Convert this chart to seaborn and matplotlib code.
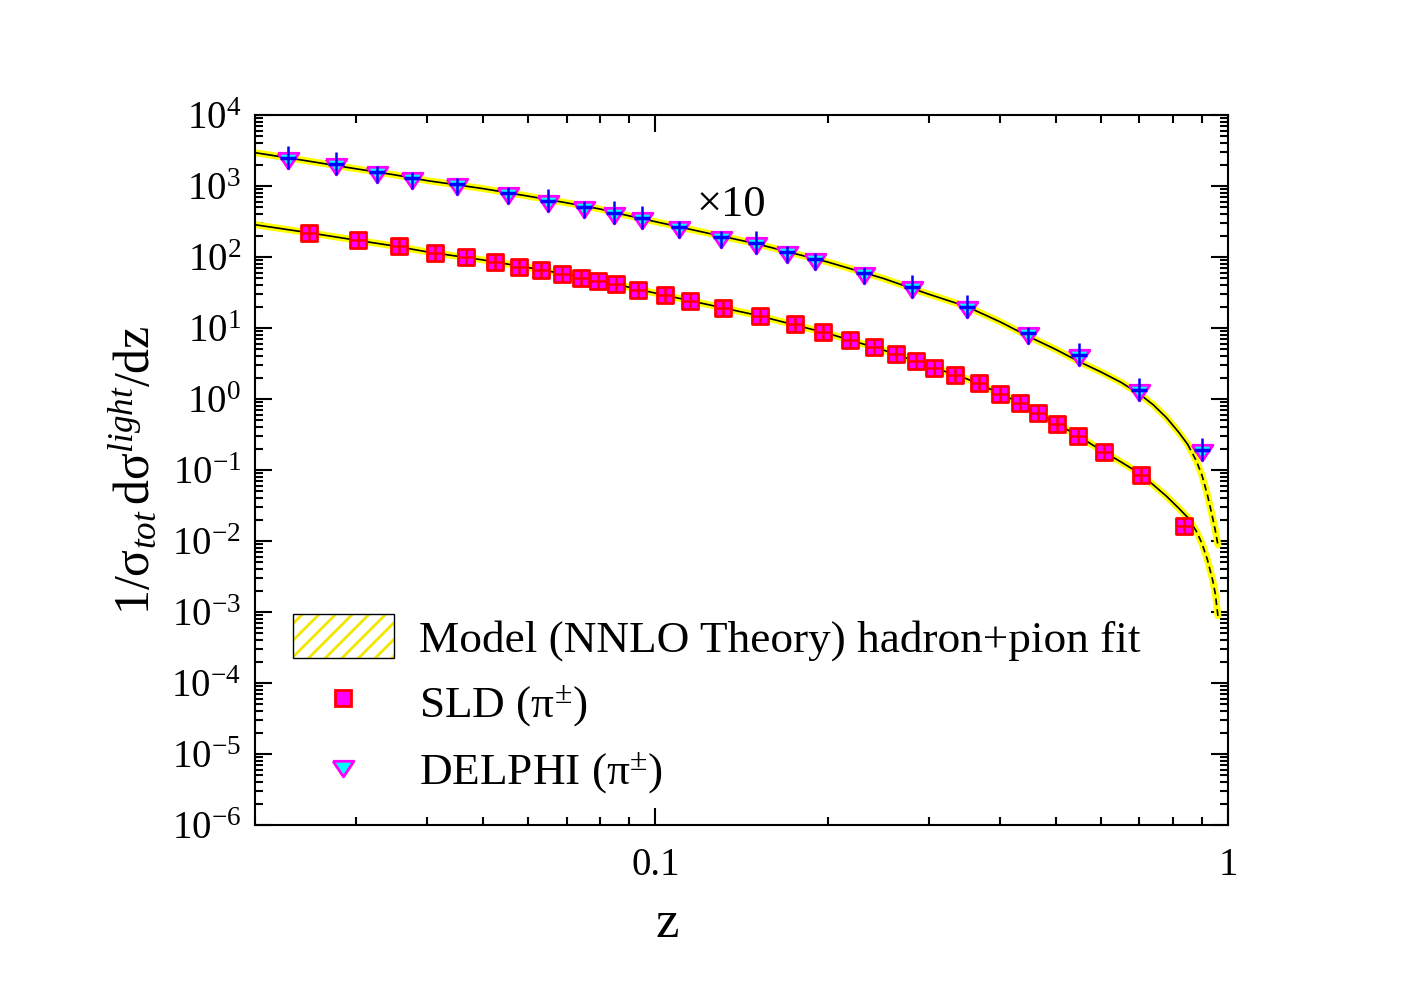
import numpy as np
import pandas as pd
import seaborn as sns
import matplotlib.pyplot as plt
from matplotlib.patches import Patch
from matplotlib.lines import Line2D
from matplotlib.markers import MarkerStyle
from matplotlib.legend_handler import HandlerTuple
from matplotlib.ticker import LogLocator, FixedLocator, FixedFormatter, NullFormatter

# theory curves (NNLO fit), light quark tagged
z_th = [0.02, 0.025, 0.03, 0.035, 0.04, 0.05, 0.06, 0.07, 0.08, 0.09, 0.1, 0.12, 0.15,
        0.2, 0.25, 0.3, 0.35, 0.4, 0.45, 0.5, 0.55, 0.6, 0.65, 0.7, 0.74, 0.78, 0.82,
        0.85, 0.88, 0.9, 0.92, 0.94, 0.95, 0.96]
th_sld = [285, 218, 173, 143, 118, 91, 71, 57, 47, 37.5, 31, 22.5, 15.2,
          8.4, 4.9, 2.93, 1.92, 1.2, 0.75, 0.46, 0.295, 0.19, 0.13, 0.09, 0.062, 0.043, 0.029,
          0.0215, 0.0138, 0.0093, 0.0055, 0.0028, 0.0018, 0.00088]
th_del = [295, 222, 175, 144, 119, 92, 72, 58, 47.5, 38, 31.5, 22.8, 15.4,
          8.5, 5.0, 3.0, 2.0, 1.22, 0.75, 0.5, 0.335, 0.24, 0.172, 0.118, 0.083, 0.055, 0.034,
          0.023, 0.0135, 0.0085, 0.0045, 0.0021, 0.0014, 0.00088]
z_dash = 0.85  # curves drawn dashed beyond this z

# SLD pi+- data
z_sld = [0.0248, 0.0303, 0.0357, 0.0413, 0.0468, 0.0524, 0.0577, 0.0632, 0.0686, 0.0743,
         0.0795, 0.0852, 0.0934, 0.104, 0.115, 0.131, 0.152, 0.175, 0.196, 0.219, 0.241,
         0.263, 0.285, 0.307, 0.334, 0.368, 0.400, 0.434, 0.466, 0.503, 0.547, 0.608,
         0.705, 0.838]
y_sld = [218, 173, 143, 114, 100, 85, 72, 66, 58, 51, 46, 42, 34, 29, 24, 19.1, 14.8, 11.4,
         8.8, 6.8, 5.4, 4.3, 3.43, 2.73, 2.18, 1.68, 1.18, 0.88, 0.635, 0.445, 0.301, 0.179,
         0.085, 0.0163]

# DELPHI pi+- data (plotted x10), asymmetric errors
z_del = [0.0228, 0.0277, 0.0327, 0.0376, 0.0451, 0.0552, 0.0650, 0.0752, 0.0848, 0.0949,
         0.110, 0.130, 0.150, 0.170, 0.190, 0.231, 0.281, 0.350, 0.448, 0.550, 0.699, 0.901]
y_del = [248, 204, 157.5, 129.7, 106.7, 79.7, 61.5, 50.6, 41.7, 35.4, 26.5, 19.1, 15.7,
         11.8, 9.4, 6.0, 3.8, 1.98, 0.85, 0.417, 0.134, 0.0191]
e_del_up = [119, 98, 33, 27, 22, 17, 30, 10.6, 20, 17, 5.6, 4.0, 7.5, 2.5, 2.0, 1.26, 1.82,
            0.95, 0.18, 0.20, 0.064, 0.0092]
e_del_dn = [74, 61, 47, 39, 32, 24, 18.5, 15.2, 12.5, 10.6, 8.0, 5.7, 4.7, 3.5, 2.8, 1.8,
            1.14, 0.59, 0.26, 0.125, 0.040, 0.0057]
scale_del = 10

sns.set_style('ticks')
plt.rcParams['font.family'] = ['Liberation Serif', 'DejaVu Serif']
plt.rcParams['mathtext.fontset'] = 'custom'
plt.rcParams['mathtext.rm'] = 'Liberation Serif'
plt.rcParams['mathtext.it'] = 'Liberation Serif:italic'
plt.rcParams['mathtext.bf'] = 'Liberation Serif:bold'
plt.rcParams['hatch.linewidth'] = 2.0
for k in ['text.color', 'axes.labelcolor', 'xtick.color', 'ytick.color', 'axes.edgecolor']:
    plt.rcParams[k] = 'black'

# downward triangle with its centroid at the data point
tri = MarkerStyle([(-1, 0.5), (1, 0.5), (0, -1), (-1, 0.5)])

fig = plt.figure(figsize=(14.28, 9.9), dpi=100)
ax = fig.add_axes([0.1786, 0.1667, 0.6814, 0.7171])
ax.set_xscale('log')
ax.set_yscale('log')

# theory curves: yellow band + black line, dashed at high z
zt = np.array(z_th)
for vals, s in ((th_sld, 1), (th_del, scale_del)):
    df = pd.DataFrame({'z': zt, 'y': np.array(vals) * s})
    sns.lineplot(data=df, x='z', y='y', color='#ffff00', lw=5, ax=ax,
                 estimator=None, sort=False, zorder=2)
    sns.lineplot(data=df[df.z <= z_dash], x='z', y='y', color='black', lw=1.2, ax=ax,
                 estimator=None, sort=False, zorder=3)
    sns.lineplot(data=df[df.z >= z_dash], x='z', y='y', color='black', lw=1.2, ax=ax,
                 estimator=None, sort=False, zorder=3, linestyle=(0, (4, 2.5)))

# SLD squares
sld = pd.DataFrame({'z': z_sld, 'y': y_sld})
sns.scatterplot(data=sld, x='z', y='y', marker='s', s=121, color='#ff00ff',
                edgecolor='#ff0000', linewidth=2, ax=ax, zorder=4)
ax.plot(z_sld, y_sld, ls='none', marker='+', ms=11, mew=1.8, color='#ff0000', zorder=5)

# DELPHI triangles x10
dl = pd.DataFrame({'z': z_del, 'y': np.array(y_del) * scale_del})
sns.scatterplot(data=dl, x='z', y='y', marker=tri, s=225, color='#00ffff',
                edgecolor='#ff00ff', linewidth=2, ax=ax, zorder=4)
yerr = np.array([e_del_dn, e_del_up]) * scale_del
ax.errorbar(z_del, dl.y, yerr=yerr, fmt='_', ms=12, mew=2.5,
            color='#0000ff', ecolor='#0000ff', elinewidth=1.8, capsize=0, zorder=5)

ax.text(0.489, 0.873, '×10', transform=ax.transAxes, ha='center', va='center', fontsize=32)

ax.set_xlim(0.02, 1)
ax.set_ylim(1e-6, 1e4)

ax.xaxis.set_major_locator(FixedLocator([0.1, 1]))
ax.xaxis.set_major_formatter(FixedFormatter(['0.1', '1']))
ax.xaxis.set_minor_locator(LogLocator(base=10, subs=np.arange(2, 10), numticks=100))
ax.xaxis.set_minor_formatter(NullFormatter())
ax.yaxis.set_major_locator(LogLocator(base=10, numticks=20))
ax.yaxis.set_minor_locator(LogLocator(base=10, subs=np.arange(2, 10), numticks=200))
ax.yaxis.set_minor_formatter(NullFormatter())

ax.tick_params(which='both', direction='in', top=True, right=True, width=1.5, color='black')
ax.tick_params(axis='x', which='major', length=12.5, pad=16, labelsize=28)
ax.tick_params(axis='x', which='minor', length=6)
ax.tick_params(axis='y', which='major', length=12, pad=10, labelsize=28)
ax.tick_params(axis='y', which='minor', length=6)
for sp in ax.spines.values():
    sp.set_linewidth(1.5)
    sp.set_color('black')

ax.set_xlabel('z', fontsize=38)
ax.xaxis.set_label_coords(0.424, -0.106)
ax.set_ylabel(r'$\mathrm{1/\sigma}_{\mathit{tot}}\,\mathrm{d\sigma}^{\mathit{light}}\mathrm{/dz}$',
              fontsize=36)
ax.yaxis.set_label_coords(-0.098, 0.5)

handles = [
    (Patch(facecolor='white', edgecolor='#f5e600', hatch='//', lw=0),
     Patch(facecolor='none', edgecolor='black', lw=1)),
    Line2D([], [], ls='none', marker='s', ms=11, mfc='#ff00ff', mec='#ff0000', mew=2),
    Line2D([], [], ls='none', marker=tri, ms=15, mfc='#00ffff', mec='#ff00ff', mew=2),
]
labels = ['Model (NNLO Theory) hadron+pion fit',
          r'SLD ($\mathrm{\pi}^{\pm}$)',
          r'DELPHI ($\mathrm{\pi}^{\pm}$)']
ax.legend(handles, labels, handler_map={tuple: HandlerTuple(ndivide=1)},
          loc='lower left', bbox_to_anchor=(0.02, 0.015), borderaxespad=0,
          frameon=False, fontsize=32.6, handlelength=2.24, handleheight=1.12,
          handletextpad=0.55, labelspacing=0.40, numpoints=1)

fig.savefig('out.png', dpi=100)
